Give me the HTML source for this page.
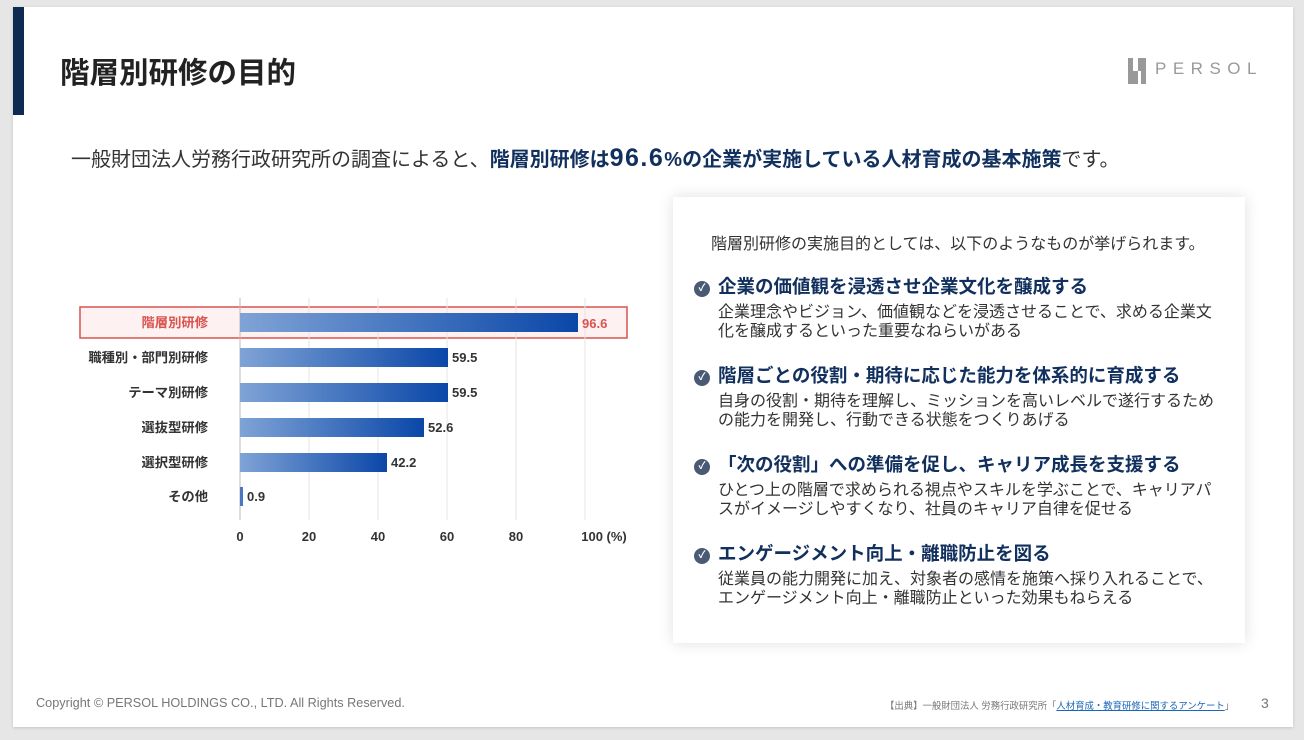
<!DOCTYPE html>
<html><head><meta charset="utf-8"><style>
*{margin:0;padding:0;box-sizing:border-box}
body{width:1304px;height:740px;background:#e6e6e6;position:relative;overflow:hidden;font-family:"Liberation Sans","Noto Sans CJK JP",sans-serif;color:#333}
.slide{position:absolute;left:13px;top:7px;width:1280px;height:720px;background:#fff;box-shadow:0 1px 3px rgba(0,0,0,.15)}
.abs{position:absolute;white-space:nowrap}
.panel{position:absolute;left:673px;top:197px;width:572px;height:446px;background:#fff;box-shadow:0 0 14px rgba(0,0,0,.13)}
.h{font-size:18.5px;font-weight:bold;color:#12305e}
.d{font-size:16px;color:#333;line-height:18.5px}
.chk{display:inline-block;width:16px;height:16px;border-radius:50%;background:#4a5a75;color:#fff;font-size:10px;text-align:center;line-height:16px;vertical-align:2px;margin-right:8px}
</style></head><body>
<div class="slide"></div>
<div class="abs" style="left:13px;top:7px;width:11px;height:108px;background:#0f2a52"></div>
<div class="abs" style="left:60px;top:50px;font-size:29.5px;font-weight:bold;color:#222">階層別研修の目的</div>
<div class="abs" style="left:1128px;top:58px;width:18px;height:26px;background:#999"></div>
<div class="abs" style="left:1133px;top:58px;width:5px;height:13px;background:#fff"></div>
<div class="abs" style="left:1138px;top:71px;width:3px;height:13px;background:#fff"></div>
<div class="abs" style="left:1155px;top:59px;font-size:17px;color:#999;letter-spacing:6.5px">PERSOL</div>
<div class="abs" style="left:71px;top:143px;font-size:20px;color:#333">一般財団法人労務行政研究所の調査によると、<b style="color:#12305e">階層別研修は<span style="font-size:25px;letter-spacing:1.5px">96.6</span>%の企業が実施している人材育成の基本施策</b>です。</div>

<svg class="abs" style="left:0;top:0" width="660" height="560">
<defs><linearGradient id="g" x1="0" x2="1"><stop offset="0" stop-color="#7fa3d6"/><stop offset="1" stop-color="#0a47a8"/></linearGradient></defs>
<rect x="80" y="307" width="547" height="31" fill="#fdf1f1" stroke="#d9534f" stroke-width="1.5"/>
<g stroke="#e4e4e4"><line x1="309" y1="298" x2="309" y2="520"/><line x1="378" y1="298" x2="378" y2="520"/><line x1="447" y1="298" x2="447" y2="520"/><line x1="516" y1="298" x2="516" y2="520"/><line x1="585" y1="298" x2="585" y2="520"/></g>
<line x1="240" y1="298" x2="240" y2="520" stroke="#bbb"/>
<g fill="url(#g)">
<rect x="240" y="313" width="338" height="19"/>
<rect x="240" y="348" width="208" height="19"/>
<rect x="240" y="383" width="208" height="19"/>
<rect x="240" y="418" width="184" height="19"/>
<rect x="240" y="453" width="147" height="19"/>
<rect x="240" y="487" width="3" height="19" fill="#4a77c0"/>
</g>
<g font-size="13.3" font-weight="bold" text-anchor="end" fill="#333">
<text x="208" y="327" fill="#d9534f">階層別研修</text>
<text x="208" y="362">職種別・部門別研修</text>
<text x="208" y="397">テーマ別研修</text>
<text x="208" y="432">選抜型研修</text>
<text x="208" y="467">選択型研修</text>
<text x="208" y="501">その他</text>
</g>
<g font-size="13" font-weight="bold" fill="#333">
<text x="582" y="328" fill="#d9534f">96.6</text>
<text x="452" y="362">59.5</text>
<text x="452" y="397">59.5</text>
<text x="428" y="432">52.6</text>
<text x="391" y="467">42.2</text>
<text x="247" y="501">0.9</text>
</g>
<g font-size="13" font-weight="bold" fill="#333" text-anchor="middle">
<text x="240" y="541">0</text><text x="309" y="541">20</text><text x="378" y="541">40</text><text x="447" y="541">60</text><text x="516" y="541">80</text><text x="604" y="541">100 (%)</text>
</g>
</svg>

<div class="panel"></div>
<div class="abs" style="left:711px;top:230px;font-size:16px">階層別研修の実施目的としては、以下のようなものが挙げられます。</div>
<div class="abs h" style="left:694px;top:273px"><span class="chk">✓</span>企業の価値観を浸透させ企業文化を醸成する</div>
<div class="abs d" style="left:718px;top:304px">企業理念やビジョン、価値観などを浸透させることで、求める企業文<br>化を醸成するといった重要なねらいがある</div>
<div class="abs h" style="left:694px;top:362px"><span class="chk">✓</span>階層ごとの役割・期待に応じた能力を体系的に育成する</div>
<div class="abs d" style="left:718px;top:393px">自身の役割・期待を理解し、ミッションを高いレベルで遂行するため<br>の能力を開発し、行動できる状態をつくりあげる</div>
<div class="abs h" style="left:694px;top:451px"><span class="chk">✓</span>「次の役割」への準備を促し、キャリア成長を支援する</div>
<div class="abs d" style="left:718px;top:482px">ひとつ上の階層で求められる視点やスキルを学ぶことで、キャリアパ<br>スがイメージしやすくなり、社員のキャリア自律を促せる</div>
<div class="abs h" style="left:694px;top:540px"><span class="chk">✓</span>エンゲージメント向上・離職防止を図る</div>
<div class="abs d" style="left:718px;top:571px">従業員の能力開発に加え、対象者の感情を施策へ採り入れることで、<br>エンゲージメント向上・離職防止といった効果もねらえる</div>

<div class="abs" style="left:36px;top:696px;font-size:12.7px;color:#777">Copyright © PERSOL HOLDINGS CO., LTD. All Rights Reserved.</div>
<div class="abs" style="left:885px;top:698px;font-size:9.4px;color:#777">【出典】一般財団法人 労務行政研究所「<span style="color:#1a66b8;text-decoration:underline">人材育成・教育研修に関するアンケート</span>」</div>
<div class="abs" style="left:1261px;top:695px;font-size:14px;color:#777">3</div>
</body></html>
